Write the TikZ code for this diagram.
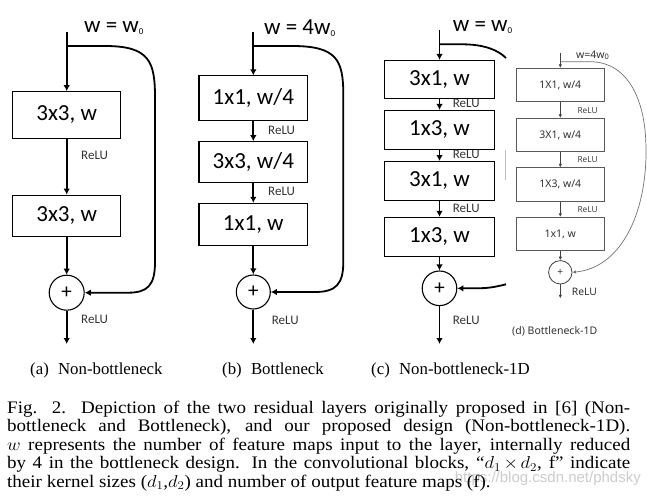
\documentclass[tikz,border=0pt]{standalone}
\usepackage{graphicx}
\usepackage{fontspec}
\setmainfont{Liberation Serif}
\newfontfamily\calib{Carlito}
\newfontfamily\dsans{Noto Sans}
\newfontfamily\wmfont{Liberation Sans}
\usetikzlibrary{arrows.meta}
\newcommand{\wsub}[1]{\raisebox{-1.5pt}{\fontsize{9}{9}\selectfont #1}}
\newcommand{\capline}[1]{\scalebox{1.08}[1]{\hbox to 576.9pt{#1}}}
\begin{document}
\begin{tikzpicture}[x=1pt,y=-1pt,
  blk/.style={draw=black, line width=1.1pt, inner sep=0pt, font=\calib\fontsize{23}{23}\selectfont},
  plus/.style={circle, draw=black, line width=1.1pt, inner sep=0pt, font=\calib\fontsize{21}{21}\selectfont},
  flow/.style={line width=1.8pt, -{Latex[length=6pt,width=6.5pt]}},
  trunk/.style={line width=1.8pt},
  relu/.style={anchor=west, inner sep=0pt, text=black!80, font=\calib\fontsize{13}{13}\selectfont},
  wlab/.style={anchor=west, inner sep=0pt, font=\calib\fontsize{23}{23}\selectfont},
  dblk/.style={draw=black!65, line width=0.8pt, minimum width=87.3pt, minimum height=33.4pt, inner sep=0pt, text=black!80, font=\dsans\fontsize{10.5}{10.5}\selectfont},
  dplus/.style={circle, draw=black!75, line width=0.8pt, minimum size=23.4pt, inner sep=0pt, text=black!80, font=\dsans\fontsize{10}{10}\selectfont},
  dflow/.style={line width=0.9pt, draw=black!75, -{Latex[length=3.5pt,width=3.5pt]}},
  drelu/.style={anchor=west, inner sep=0pt, text=black!75, font=\dsans\fontsize{8.3}{8.3}\selectfont},
  sub/.style={anchor=base west, inner sep=0pt, font=\fontsize{16.8}{18}\selectfont},
  capl/.style={anchor=base west, inner sep=0pt, font=\fontsize{17.6}{18}\selectfont}
]
\useasboundingbox (0,0) rectangle (647,497);
\fill[white] (0,0) rectangle (647,497);

% ---------- (a) ----------
\coordinate (ain) at (66.7,32);
\coordinate (asplit) at (66.7,46);
\node[blk, minimum width=108.4pt, minimum height=46.6pt] (a1) at (66.7,115) {3x3, w};
\node[blk, minimum width=108.4pt, minimum height=41.7pt] (a2) at (66.7,216) {3x3, w};
\node[plus, minimum size=35pt] (ac) at (66.7,292.7) {+};
\coordinate (aout) at (66.7,344);
\draw[trunk] (ain) -- (asplit);
\draw[flow] (asplit) -- (a1.north);
\draw[flow] (a1) -- (a2);
\draw[flow] (a2) -- (ac);
\draw[flow] (ac) -- (aout);
\draw[flow] (asplit) -- (105,46) .. controls (150,46) and (155,62) .. (155,98) -- (155,262) .. controls (155,285) and (148,292.7) .. (128,292.7) -- (ac.east);
\node[wlab] (aw) at (84,28) {w = w\wsub{0}};
\node[relu] (ar1) at (81,155) {ReLU};
\node[relu] (ar2) at (81,319) {ReLU};

% ---------- (b) ----------
\coordinate (bin) at (253.3,32);
\coordinate (bsplit) at (253.3,46);
\node[blk, minimum width=108.7pt, minimum height=44.7pt] (b1) at (253.3,98.3) {1x1, w/4};
\node[blk, minimum width=108.7pt, minimum height=41pt] (b2) at (253.3,162.2) {3x3, w/4};
\node[blk, minimum width=108.7pt, minimum height=42.3pt] (b3) at (253.3,224.5) {1x1, w};
\node[plus, minimum size=34pt] (bc) at (253.3,292) {+};
\coordinate (bout) at (253.3,344);
\draw[trunk] (bin) -- (bsplit);
\draw[flow] (bsplit) -- (b1.north);
\draw[flow] (b1) -- (b2);
\draw[flow] (b2) -- (b3);
\draw[flow] (b3) -- (bc);
\draw[flow] (bc) -- (bout);
\draw[flow] (bsplit) -- (292,46) .. controls (337,46) and (343.3,60) .. (343.3,95) -- (343.3,262) .. controls (343.3,284) and (336,292) .. (315,292) -- (bc.east);
\node[wlab] (bw) at (264,28) {w = 4w\wsub{0}};
\node[relu] (br1) at (268,130) {ReLU};
\node[relu] (br2) at (268,191.7) {ReLU};
\node[relu] (br3) at (271.7,320) {ReLU};

% ---------- (c) ----------
\coordinate (cin) at (439.5,30);
\coordinate (csplit) at (439.5,44.3);
\node[blk, minimum width=110pt, minimum height=38pt] (c1) at (439.5,79.5) {3x1, w};
\node[blk, minimum width=110pt, minimum height=39pt] (c2) at (439.5,130) {1x3, w};
\node[blk, minimum width=110pt, minimum height=38.8pt] (c3) at (439.5,181) {3x1, w};
\node[blk, minimum width=110pt, minimum height=39.2pt] (c4) at (439.5,237) {1x3, w};
\node[plus, minimum size=34.6pt] (cc) at (439.5,288.3) {+};
\coordinate (cout) at (439.5,344);
\coordinate (cend) at (506,58);
\coordinate (cret) at (506,284.3);
\draw[trunk] (cin) -- (csplit);
\draw[flow] (csplit) -- (c1.north);
\draw[flow] (c1) -- (c2);
\draw[flow] (c2) -- (c3);
\draw[flow] (c3) -- (c4);
\draw[flow] (c4) -- (cc);
\draw[flow] (cc) -- (cout);
\draw[trunk] (csplit) -- (462,44.3) .. controls (484,44.3) and (498,50) .. (cend);
\draw[flow] (cret) .. controls (490,288.3) and (485,288.3) .. (470,288.3) -- (cc.east);
\node[wlab] (cw) at (452.7,27) {w = w\wsub{0}};
\node[relu] (cr1) at (452.7,103.5) {ReLU};
\node[relu] (cr2) at (452.7,154) {ReLU};
\node[relu] (cr3) at (452.7,208) {ReLU};
\node[relu] (cr4) at (452.7,320) {ReLU};
\draw[black!25, line width=0.8pt] (505,150) -- (505,180);

% ---------- (d) ----------
\coordinate (din) at (560.3,53);
\coordinate (dsplit) at (560.3,61.7);
\node[dblk] (d1) at (560.3,85) {1X1, w/4};
\node[dblk] (d2) at (560.3,135) {3X1, w/4};
\node[dblk] (d3) at (560.3,184.5) {1X3, w/4};
\node[dblk] (d4) at (560.3,234) {1x1, w};
\node[dplus] (dc) at (560.3,272.3) {+};
\coordinate (dout) at (560.3,298.3);
\draw[line width=0.9pt, black!75] (din) -- (dsplit);
\draw[dflow] (dsplit) -- (d1.north);
\draw[dflow] (d1) -- (d2);
\draw[dflow] (d2) -- (d3);
\draw[dflow] (d3) -- (d4);
\draw[dflow] (d4) -- (dc);
\draw[dflow] (dc) -- (dout);
\draw[line width=0.7pt, draw=black!55, -{Latex[length=3.5pt,width=3.5pt]}] (dsplit) -- (590,61.7) .. controls (625,61.7) and (646,95) .. (646,150) .. controls (646.5,215) and (620,268) .. (dc.east);
\node[anchor=west, inner sep=0pt, text=black!80, font=\dsans\fontsize{10.5}{10.5}\selectfont] (dw) at (576,55) {w=4w\raisebox{-1pt}{\fontsize{7.5}{7.5}\selectfont 0}};
\node[drelu] (dr1) at (577.3,110.7) {ReLU};
\node[drelu] (dr2) at (577.3,160) {ReLU};
\node[drelu] (dr3) at (577.3,209.3) {ReLU};
\node[anchor=west, inner sep=0pt, text=black!80, font=\dsans\fontsize{10.3}{10.3}\selectfont] (dr4) at (571.7,291.7) {ReLU};
\node[anchor=west, inner sep=0pt, text=black!80, font=\dsans\fontsize{10.5}{10.5}\selectfont] (dcap) at (512,331.7) {(d) Bottleneck-1D};

% ---------- sub-captions ----------
\node[sub] (sa) at (30,374) {(a)\hspace{0.55em}Non-bottleneck};
\node[sub] (sb) at (222,374) {(b)\hspace{0.55em}Bottleneck};
\node[sub] (sc) at (371,374) {(c)\hspace{0.55em}Non-bottleneck-1D};

% ---------- watermark ----------
\node[anchor=east, inner sep=0pt, text=black!20, font=\wmfont\fontsize{15}{15}\selectfont] (wm) at (641,479) {https://blog.csdn.net/phdsky};

% ---------- caption ----------
\node[capl] (l1) at (7,413) {\capline{Fig. 2.\ \ Depiction of the two residual layers originally proposed in [6] (Non-}};
\node[capl] (l2) at (7,431.6) {\capline{bottleneck and Bottleneck), and our proposed design (Non-bottleneck-1D).}};
\node[capl] (l3) at (7,450.2) {\capline{$w$ represents the number of feature maps input to the layer, internally reduced}};
\node[capl] (l4) at (7,468.8) {\capline{by 4 in the bottleneck design. In the convolutional blocks, “$d_1\!\times\! d_2$, f” indicate}};
\node[capl] (l5) at (7,487.4) {\scalebox{1.08}[1]{their kernel sizes ($d_1$,$d_2$) and number of output feature maps (f).}};
\end{tikzpicture}
\end{document}
